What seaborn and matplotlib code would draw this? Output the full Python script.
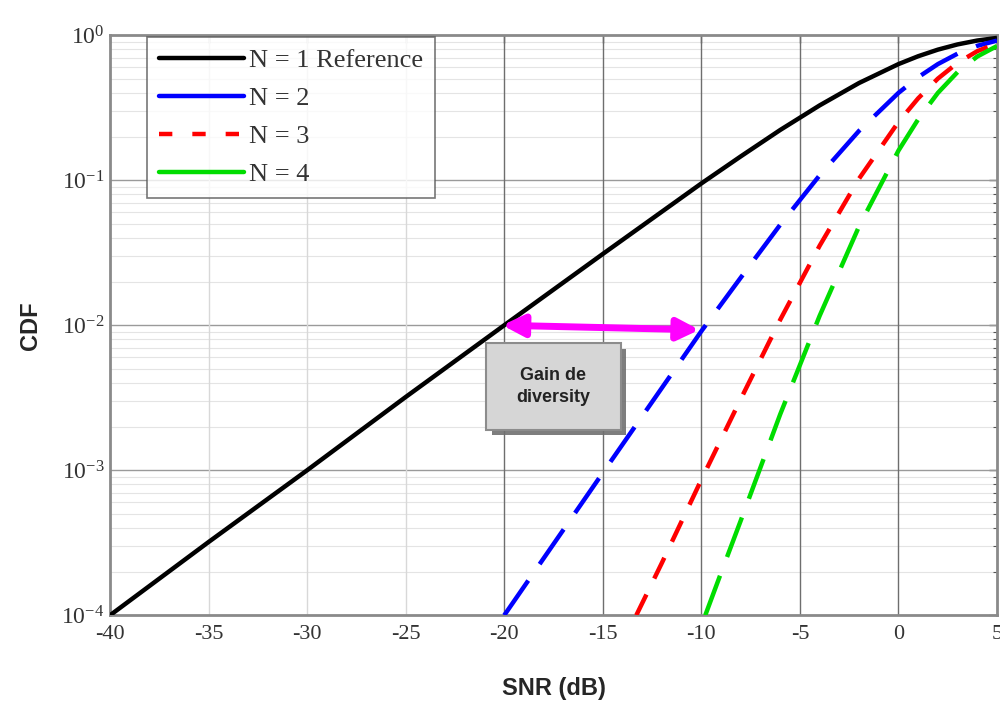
import numpy as np
import pandas as pd
import matplotlib
matplotlib.use('Agg')
import matplotlib.pyplot as plt
import matplotlib.patheffects as pe
from matplotlib.lines import Line2D
from matplotlib.patches import Rectangle
from matplotlib.ticker import LogLocator, NullFormatter, FixedLocator
import seaborn as sns

# values
snr_n1 = [-40, -35, -30, -25, -20, -15, -10, -8, -6, -4, -2, 0, 1, 2, 3, 4, 5]
cdf_n1 = [1.0e-4, 3.2e-4, 1.0e-3, 3.2e-3, 0.010, 0.031, 0.095, 0.146, 0.222,
          0.328, 0.468, 0.632, 0.716, 0.795, 0.864, 0.919, 0.958]

snr_n2 = [-20, -15, -10, -8, -6, -4, -2, 0, 1, 2, 3, 4, 5]
cdf_n2 = [1.0e-4, 9.6e-4, 0.0091, 0.0213, 0.0493, 0.108, 0.219, 0.40, 0.513,
          0.632, 0.746, 0.845, 0.918]

snr_n3 = [-13.3, -12, -10, -8, -6, -4, -2, 0, 1, 2, 3, 4, 5]
cdf_n3 = [1.0e-4, 2.3e-4, 8.6e-4, 0.0031, 0.0109, 0.0353, 0.1025, 0.252, 0.367,
          0.502, 0.645, 0.776, 0.879]

snr_n4 = [-9.8, -9, -8, -6, -4, -2, 0, 1, 2, 3, 4, 5]
cdf_n4 = [1.0e-4, 1.96e-4, 4.5e-4, 2.43e-3, 0.0116, 0.048, 0.16, 0.263, 0.40,
          0.557, 0.713, 0.842]

labels = ["N = 1 Reference", "N = 2", "N = 3", "N = 4"]
colors = ["black", "#0000ff", "#ff0000", "#00dd00"]
dash_styles = [None, (9.5, 4.5), (5.2, 4), (9.5, 4.5)]

x_ticks = [-40, -35, -30, -25, -20, -15, -10, -5, 0, 5]

sns.set_theme(style="white")
plt.rcParams['font.family'] = ['Liberation Serif', 'DejaVu Serif']
plt.rcParams['mathtext.fontset'] = 'custom'
plt.rcParams['mathtext.rm'] = 'Liberation Serif'
plt.rcParams['mathtext.it'] = 'Liberation Serif:italic'
plt.rcParams['axes.unicode_minus'] = False

fig = plt.figure(figsize=(10, 7.04), dpi=100)
ax = fig.add_axes([0.11, 0.126, 0.887, 0.824])

curves = [(snr_n1, cdf_n1), (snr_n2, cdf_n2), (snr_n3, cdf_n3), (snr_n4, cdf_n4)]
for (xs, ys), lab, col, dsh in zip(curves, labels, colors, dash_styles):
    df = pd.DataFrame({"snr": xs, "cdf": ys})
    sns.lineplot(data=df, x="snr", y="cdf", color=col, lw=3.2, ax=ax, zorder=3)
    line = ax.lines[-1]
    if dsh is not None:
        line.set_dashes(dsh)
    line.set_solid_capstyle('butt')

ax.set_yscale('log')
ax.set_xlim(-40, 5)
ax.set_ylim(1e-4, 1)
ax.xaxis.set_major_locator(FixedLocator(x_ticks))
ax.yaxis.set_major_locator(LogLocator(base=10, numticks=10))
ax.yaxis.set_minor_locator(LogLocator(base=10, subs=np.arange(2, 10), numticks=20))
ax.yaxis.set_minor_formatter(NullFormatter())

# grid
ax.grid(False)
for yv in [1e-3, 1e-2, 1e-1]:
    ax.axhline(yv, color='#9a9a9a', lw=1.0, zorder=1)
for dec in [1e-4, 1e-3, 1e-2, 1e-1]:
    for s in range(2, 10):
        ax.axhline(dec * s, color='#e4e4e4', lw=0.8, zorder=0)
for xv in x_ticks[1:-1]:
    c = '#6e6e6e' if xv >= -20 else '#d8d8d8'
    ax.axvline(xv, color=c, lw=1.0, zorder=1)

ax.tick_params(axis='both', which='both', direction='in', top=True, right=True,
               colors='#555555', labelcolor='#333333')
ax.tick_params(axis='both', which='major', length=6, width=1)
ax.tick_params(axis='x', which='major', labelsize=16, pad=7)
ax.tick_params(axis='y', which='major', labelsize=17, pad=4)
ax.tick_params(axis='y', which='minor', length=3, width=0.8)
for sp in ax.spines.values():
    sp.set_color('#8a8a8a')
    sp.set_linewidth(2)

ax.set_xlabel("SNR (dB)", family=['Liberation Sans', 'DejaVu Sans'],
              fontweight='bold', fontsize=17, labelpad=24)
ax.set_ylabel("CDF", family=['Liberation Sans', 'DejaVu Sans'],
              fontweight='bold', fontsize=17, labelpad=14)

# legend with proxy handles as in the reference
handles = [
    Line2D([], [], color=colors[0], lw=3.2),
    Line2D([], [], color=colors[1], lw=3.2),
    Line2D([], [], color=colors[2], lw=3.2, dashes=(3, 4.5)),
    Line2D([], [], color=colors[3], lw=3.2),
]
leg = ax.legend(handles, labels, loc='upper left', bbox_to_anchor=(0.042, 0.997),
                fontsize=19, frameon=True, fancybox=False, edgecolor='#555555',
                handlelength=3.2, handletextpad=0.2, labelspacing=0.55,
                borderpad=0.45, borderaxespad=0)
leg.get_frame().set_linewidth(1.2)
for t in leg.get_texts():
    t.set_color('#333333')

# diversity gain annotation
ax.annotate("", xy=(-10.1, 0.0093), xytext=(-20.1, 0.0100),
            arrowprops=dict(arrowstyle='<|-|>', color='#ff00ff', lw=5,
                            mutation_scale=32, shrinkA=0, shrinkB=0), zorder=5)
box = Rectangle((-20.9, 0.0019), 6.8, 0.0075 - 0.0019, facecolor='#d6d6d6',
                edgecolor='#8c8c8c', lw=1.5, zorder=4,
                path_effects=[pe.SimplePatchShadow(offset=(4, -4), shadow_rgbFace='#707070', alpha=0.9),
                              pe.Normal()])
ax.add_patch(box)
ax.text(-17.5, 0.0038, "Gain de\ndiversity", ha='center', va='center',
        family=['Liberation Sans', 'DejaVu Sans'], fontweight='bold', fontsize=13,
        color='#222222', linespacing=1.4, zorder=6)

fig.savefig("out.png", dpi=100)
